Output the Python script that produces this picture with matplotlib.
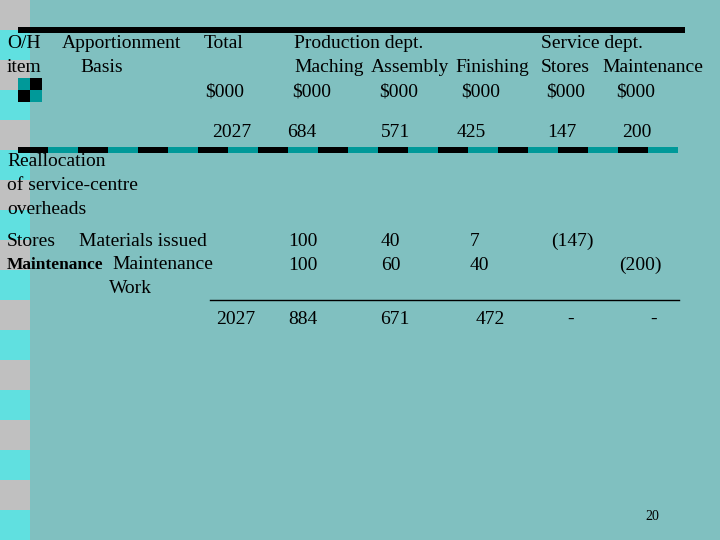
import numpy as np
import matplotlib.pyplot as plt
from matplotlib.patches import Rectangle

# table content
col_x = [287, 381, 457, 547, 622]          # Maching, Assembly, Finishing, Stores, Maintenance
opening = ["684", "571", "425", "147", "200"]
opening_total = "2027"
stores_row = ["100", "40", "7", "(147)", ""]
maint_row = ["100", "60", "40", "", "(200)"]
closing = ["884", "671", "472", "-", "-"]
closing_total = "2027"
page_no = "20"

BG = "#80c0c0"
TEAL = "#009999"

fig = plt.figure(figsize=(7.2, 5.4), dpi=100)
fig.patch.set_facecolor(BG)
ax = fig.add_axes([0, 0, 1, 1])
ax.set_xlim(0, 720)
ax.set_ylim(540, 0)
ax.axis('off')
ax.set_facecolor(BG)

# left decorative strip: grey blocks and dotted cyan blocks (drawn as their mean colour)
for y0 in range(0, 540, 60):
    ax.add_patch(Rectangle((0, y0), 30, 30, color='#c0c0c0', lw=0, zorder=1))
    ax.add_patch(Rectangle((0, y0 + 30), 30, 30, color='#60e0e0', lw=0, zorder=1))

# top black bar
ax.add_patch(Rectangle((18, 27), 667, 6, color='black', lw=0, zorder=3))

# small squares
ax.add_patch(Rectangle((18, 78), 12, 12, color=TEAL, lw=0, zorder=3))
ax.add_patch(Rectangle((30, 78), 12, 12, color='black', lw=0, zorder=3))
ax.add_patch(Rectangle((18, 90), 12, 12, color='black', lw=0, zorder=3))
ax.add_patch(Rectangle((30, 90), 12, 12, color=TEAL, lw=0, zorder=3))

# dashed separator
for i, x0 in enumerate(range(18, 678, 30)):
    ax.add_patch(Rectangle((x0, 147), 30, 6, color='black' if i % 2 == 0 else TEAL, lw=0, zorder=3))

# thin line above totals
ax.plot([210, 679], [300, 300], color='black', lw=1, zorder=3)

fs = 14
off = 6  # baseline sits about half a cap height below the visual centre
kw = dict(fontsize=fs, family='Liberation Serif', va='baseline', ha='left', color='black', zorder=4)


def put(x, y, s, **extra):
    d = dict(kw)
    d.update(extra)
    ax.text(x, y + off, s, **d)


# header
put(7, 42, "O/H")
put(62, 42, "Apportionment")
put(204, 42, "Total")
put(294, 42, "Production dept.")
put(541, 42, "Service dept.")
put(7, 66, "item")
put(80, 66, "Basis")
put(294, 66, "Maching")
put(371, 66, "Assembly")
put(455, 66, "Finishing")
put(541, 66, "Stores")
put(602, 66, "Maintenance")
for x in [205, 292, 379, 461, 546, 616]:
    put(x, 90, "$000")

# opening balances
put(212, 131, opening_total)
for x, v in zip(col_x, opening):
    put(x, 131, v)

put(7, 160, "Reallocation")
put(7, 184, "of service-centre")
put(7, 208, "overheads")

put(7, 240, "Stores")
put(79, 240, "Materials issued")
for x, v in zip([288, 381, 470, 551, 619], stores_row):
    put(x, 240, v)

put(7, 263, "Maintenance", fontsize=12.5, fontweight='bold')
put(112, 263, "Maintenance")
put(109, 287, "Work")
for x, v in zip([288, 381, 470, 551, 619], maint_row):
    put(x, 264, v)

# closing totals
put(216, 318, closing_total)
for x, v in zip([288, 380, 476, 567, 650], closing):
    put(x, 318, v)

ax.text(645, 520, page_no, fontsize=10, family='Liberation Serif', va='baseline', ha='left')

fig.savefig('out.png', dpi=100, facecolor=BG)
